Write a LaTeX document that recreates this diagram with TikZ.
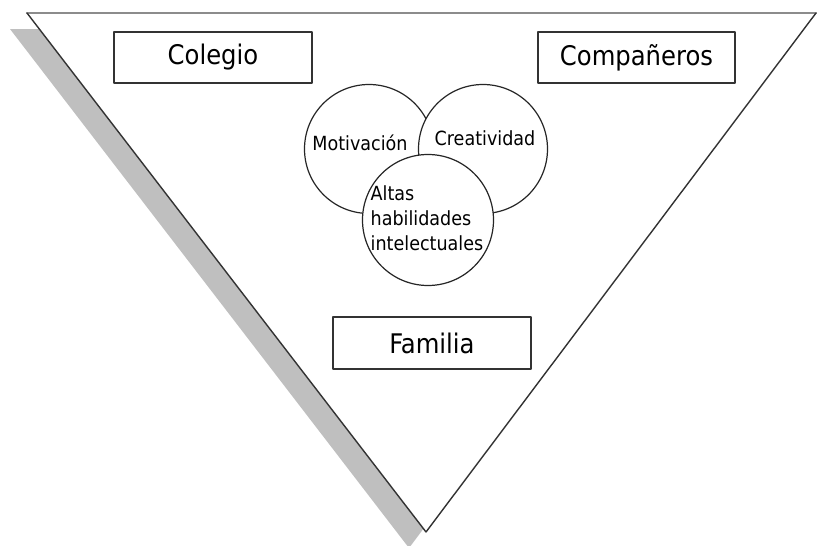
\documentclass[tikz,border=0pt]{standalone}
\usepackage{fontspec}
\setmainfont{DejaVu Sans Condensed}
\begin{document}
\begin{tikzpicture}[x=1pt, y=-1pt, line join=round, line cap=round,
  caja/.style={draw=black!80, line width=1.3pt, minimum width=198pt, minimum height=51pt, inner sep=0pt, font=\fontsize{27}{32}\selectfont},
  esfera/.style={circle, draw=black!85, fill=white, line width=1.2pt, minimum size=129pt, inner sep=0pt},
  rotulo/.style={inner sep=0pt, font=\fontsize{19.5}{25}\selectfont}]
 	\useasboundingbox (0,0) rectangle (817,546);
 	% sombra y triangulo
 	\fill[black!25] (10,29)--(798,29)--(409,548)--cycle;
 	\fill[white] (27,13)--(816,13)--(426,532)--cycle;
 	\draw[black!45, line width=2.2pt] (27,13)--(816,13);
 	\draw[black!80, line width=1.4pt] (27,13)--(426,532)--(816,13);
 	% cajas
 	\node[caja] (colegio) at (213,57.5) {Colegio};
 	\node[caja, minimum width=197pt] (companeros) at (636.5,57.5) {Compañeros};
 	\node[caja, minimum height=52pt] (familia) at (432,343) {Familia};
 	% circulos
 	\node[esfera] (motivacion) at (369,149) {};
 	\node[esfera] (creatividad) at (483,149) {};
 	\node[esfera, minimum size=131pt] (altas) at (428,220) {};
 	\node[rotulo] (tmot) at (360,143) {Motivación};
 	\node[rotulo] (tcre) at (485,138) {Creatividad};
 	\node[rotulo, align=left] (talt) at (427,218) {Altas\\habilidades\\intelectuales};
\end{tikzpicture}
\end{document}
